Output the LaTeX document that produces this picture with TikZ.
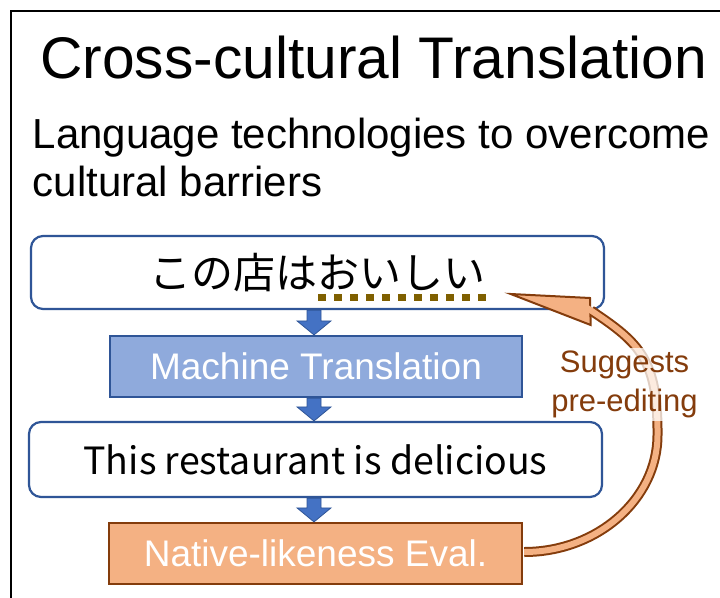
\documentclass[tikz,border=0pt]{standalone}
\usepackage{fontspec}
\setmainfont{Liberation Sans}
\newfontfamily\cjk{Noto Sans CJK JP}
\usetikzlibrary{calc}
\definecolor{bordblue}{HTML}{2F5597}
\definecolor{mtfill}{HTML}{8FAADC}
\definecolor{arrblue}{HTML}{4472C4}
\definecolor{evfill}{HTML}{F4B183}
\definecolor{evbord}{HTML}{843C0C}
\definecolor{uline}{HTML}{7F6000}
\begin{document}
\begin{tikzpicture}[x=1pt,y=-1pt,
  rbox/.style={draw=bordblue, line width=2.2pt, rounded corners=12pt, fill=white, inner sep=0pt, font=\cjk\fontsize{42}{50}\selectfont},
  mtbox/.style={draw=bordblue, line width=2.2pt, fill=mtfill, text=white, inner sep=0pt, font=\fontsize{37}{44}\selectfont},
  evbox/.style={draw=evbord, line width=2.2pt, fill=evfill, text=white, inner sep=0pt, font=\fontsize{37}{44}\selectfont},
  barrow/.style={fill=arrblue, draw=bordblue, line width=0.8pt, line join=miter},
  band/.style={evbord, line width=10pt},
  bandin/.style={evfill, line width=6pt},
]
\useasboundingbox (0,0) rectangle (720,597);
\fill[white] (0,0) rectangle (720,597);
\draw[line width=2pt] (11,605) -- (11,11) -- (730,11);

\node[anchor=base, font=\fontsize{58.7}{70}\selectfont, inner sep=0pt] (title) at (373.5,78) {Cross-cultural Translation};
\node[anchor=base west, font=\fontsize{42}{48}\selectfont, inner sep=0pt] (sub1) at (32.5,148) {Language technologies to overcome};
\node[anchor=base west, font=\fontsize{42}{48}\selectfont, inner sep=0pt] (sub2) at (32.5,196) {cultural barriers};

\node[rbox, minimum width=573pt, minimum height=73pt] (jp) at (317.5,272.5) {この店はおいしい};
\node[mtbox, minimum width=412pt, minimum height=61pt] (mt) at (316,366.5) {Machine Translation};
\node[rbox, minimum width=573pt, minimum height=75pt] (en) at (315.5,459.5) {\fontsize{37.5}{45}\selectfont This restaurant is delicious};
\node[evbox, minimum width=413pt, minimum height=61pt] (ev) at (315.5,553.5) {Native-likeness Eval.};

% dotted underline
\coordinate (u1) at (318,297.5);
\coordinate (u2) at (486,297.5);
\draw[uline, line width=7pt, dash pattern=on 7.5pt off 8.5pt] (u1) -- (u2);

% block arrows
\coordinate (ax) at (314,0);
\foreach \a/\b in {jp/mt, mt/en, en/ev}{
  \coordinate (t) at (\a.south -| ax);
  \coordinate (b) at (\b.north -| ax);
  \filldraw[barrow] ($(t)+(-7,0)$) -- ($(b)+(-7,-14)$) -- ($(b)+(-17,-14)$) -- (b)
     -- ($(b)+(17,-14)$) -- ($(b)+(7,-14)$) -- ($(t)+(7,0)$) -- cycle;
}

% curved arrow
\coordinate (tip) at (510.7,294);
\coordinate (hb1) at (590,298);
\coordinate (hb2) at (590.7,325);
\coordinate (send) at (591,310.5);
\coordinate (rm) at (657.5,435);
\coordinate (cs) at ($(ev.east)+(1.1,-1.5)$);
\draw[band] (cs) .. controls (596.8,552) and (657.5,499.6) .. (rm)
   .. controls (658,360) and (640,343) .. (send);
\filldraw[fill=evfill, draw=evbord, line width=2pt, line join=miter] (tip) -- (hb1) -- (hb2) -- cycle;
\draw[bandin] (cs) .. controls (596.8,552) and (657.5,499.6) .. (rm)
   .. controls (658,360) and (640,343) .. (send) -- ($(send)+(-4,-2.7)$);

\node[align=center, text=evbord, font=\fontsize{31}{39}\selectfont, fill=white, fill opacity=0.75, text opacity=1, inner xsep=1pt, inner ysep=3pt] (sug) at (624.5,384.5) {Suggests\\pre-editing};
\end{tikzpicture}
\end{document}
